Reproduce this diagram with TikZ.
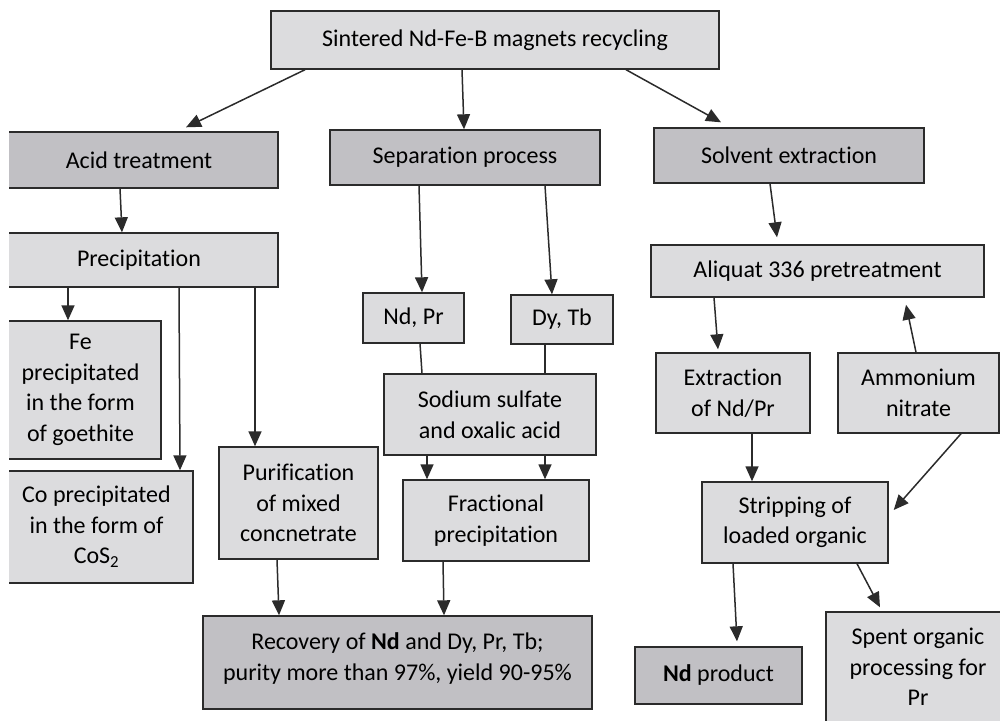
\documentclass[tikz,border=0pt]{standalone}
\usepackage{fontspec}
\setmainfont{Carlito}[RawFeature={-liga;-clig;-dlig;-calt}]
\usepackage{xcolor}
\usetikzlibrary{arrows.meta}
\definecolor{boxLight}{HTML}{DCDCDE}
\definecolor{boxDark}{HTML}{C1C0C4}
\definecolor{ink}{HTML}{2B2B2B}

\begin{document}
\begin{tikzpicture}[x=1pt,y=-1pt,>={Triangle[width=13pt,length=15pt]},
  box/.style={draw=ink,line width=1.4pt,fill=boxLight,inner sep=0pt,align=center,font=\fontsize{24}{30.5}\selectfont},
  darkbox/.style={box,fill=boxDark},
  flow/.style={->,draw=ink,line width=1.5pt}]
\useasboundingbox (0,0) rectangle (1000,720);
\clip (9,0) rectangle (1000,720);
% root
\node[box,minimum width=448pt,minimum height=58pt] (root) at (495,40) {Sintered Nd-Fe-B magnets recycling};
% three routes
\node[darkbox,minimum width=278pt,minimum height=56pt] (acid) at (139,160) {Acid treatment};
\node[darkbox,minimum width=270pt,minimum height=55pt] (sep) at (465,157.5) {Separation process};
\node[darkbox,minimum width=270pt,minimum height=55pt] (solv) at (789,155.5) {Solvent extraction};
% acid route
\node[box,minimum width=278pt,minimum height=54pt] (prec) at (139,260) {Precipitation};
\node[box,minimum width=161pt,minimum height=138pt] (fe) at (80.5,390) {Fe\\precipitated\\in the form\\of goethite};
\node[box,minimum width=193pt,minimum height=112pt] (co) at (96.5,527) {Co precipitated\\in the form of\\CoS\textsubscript{2}};
\node[box,minimum width=159pt,minimum height=112pt] (puri) at (298.5,503) {Purification\\of mixed\\concnetrate};
% separation route
\node[box,minimum width=101pt,minimum height=50pt] (ndpr) at (413.5,318) {Nd, Pr};
\node[box,minimum width=102pt,minimum height=49pt] (dytb) at (562,319.5) {Dy, Tb};
\node[box,minimum width=212pt,minimum height=81pt] (sodium) at (490,414.5) {Sodium sulfate\\and oxalic acid};
\node[box,minimum width=186pt,minimum height=81pt] (frac) at (496,520.5) {Fractional\\precipitation};
\node[darkbox,minimum width=389pt,minimum height=93pt,text depth=12pt] (recov) at (397.5,662.5) {Recovery of \textbf{Nd} and Dy, Pr, Tb;\\purity more than 97\%, yield 90-95\%};
% solvent route
\node[box,minimum width=333pt,minimum height=52pt] (aliq) at (817.5,271) {Aliquat 336 pretreatment};
\node[box,minimum width=154pt,minimum height=80pt] (extr) at (733,393) {Extraction\\of Nd/Pr};
\node[box,minimum width=161pt,minimum height=80pt] (ammo) at (918.5,393) {Ammonium\\nitrate};
\node[box,minimum width=186pt,minimum height=81pt] (strip) at (795,522.5) {Stripping of\\loaded organic};
\node[darkbox,minimum width=167pt,minimum height=57pt] (ndprod) at (718.5,675.5) {\textbf{Nd} product};
\node[box,minimum width=184pt,minimum height=110pt] (spent) at (918,667) {Spent organic\\processing for\\Pr};
% arrows from the root
\draw[flow] ([xshift=-190pt]root.south) -- ([xshift=47pt,yshift=4pt]acid.north);
\draw[flow] ([xshift=-33pt]root.south) -- ([xshift=-1pt]sep.north);
\draw[flow] ([xshift=131pt]root.south) -- ([xshift=-68pt,yshift=5pt]solv.north);
% acid treatment
\draw[flow] ([xshift=-19pt]acid.south) -- ([xshift=-17pt]prec.north);
\draw[flow] ([xshift=-71pt]prec.south) -- ([xshift=-12.5pt]fe.north);
\draw[flow] ([xshift=40pt]prec.south) -- ([xshift=83.5pt]co.north);
\draw[flow] ([xshift=116pt]prec.south) -- ([xshift=-43.5pt]puri.north);
\draw[flow] ([xshift=-21.5pt]puri.south) -- ([xshift=-118.5pt]recov.north);
% separation process
\draw[flow] ([xshift=-46pt]sep.south) -- ([xshift=8.5pt]ndpr.north);
\draw[flow] ([xshift=80pt]sep.south) -- ([xshift=-10pt]dytb.north);
\draw[ink,line width=1.5pt] ([xshift=6.5pt]ndpr.south) -- ([xshift=-68pt]sodium.north);
\draw[ink,line width=1.5pt] ([xshift=-17pt]dytb.south) -- ([xshift=55pt]sodium.north);
\draw[flow] ([xshift=-63pt]sodium.south) -- ([xshift=-69pt]frac.north);
\draw[flow] ([xshift=55pt]sodium.south) -- ([xshift=49pt]frac.north);
\draw[flow] ([xshift=-53pt]frac.south) -- ([xshift=46.5pt]recov.north);
% solvent extraction
\draw[flow] ([xshift=-19pt]solv.south) -- ([xshift=-40.5pt,yshift=7pt]aliq.north);
\draw[flow] ([xshift=-103.5pt]aliq.south) -- ([xshift=-15pt,yshift=3pt]extr.north);
\draw[flow] ([xshift=-2.5pt]ammo.north) -- ([xshift=88.5pt,yshift=-7pt]aliq.south);
\draw[flow] ([xshift=19pt]extr.south) -- ([xshift=-43pt]strip.north);
\draw[flow] ([xshift=42.5pt]ammo.south) -- ([xshift=5pt,yshift=12.5pt]strip.east);
\draw[flow] ([xshift=-62pt]strip.south) -- ([xshift=18.5pt,yshift=5pt]ndprod.north);
\draw[flow] ([xshift=62pt]strip.south) -- ([xshift=-38pt,yshift=4pt]spent.north);
\end{tikzpicture}
\end{document}
